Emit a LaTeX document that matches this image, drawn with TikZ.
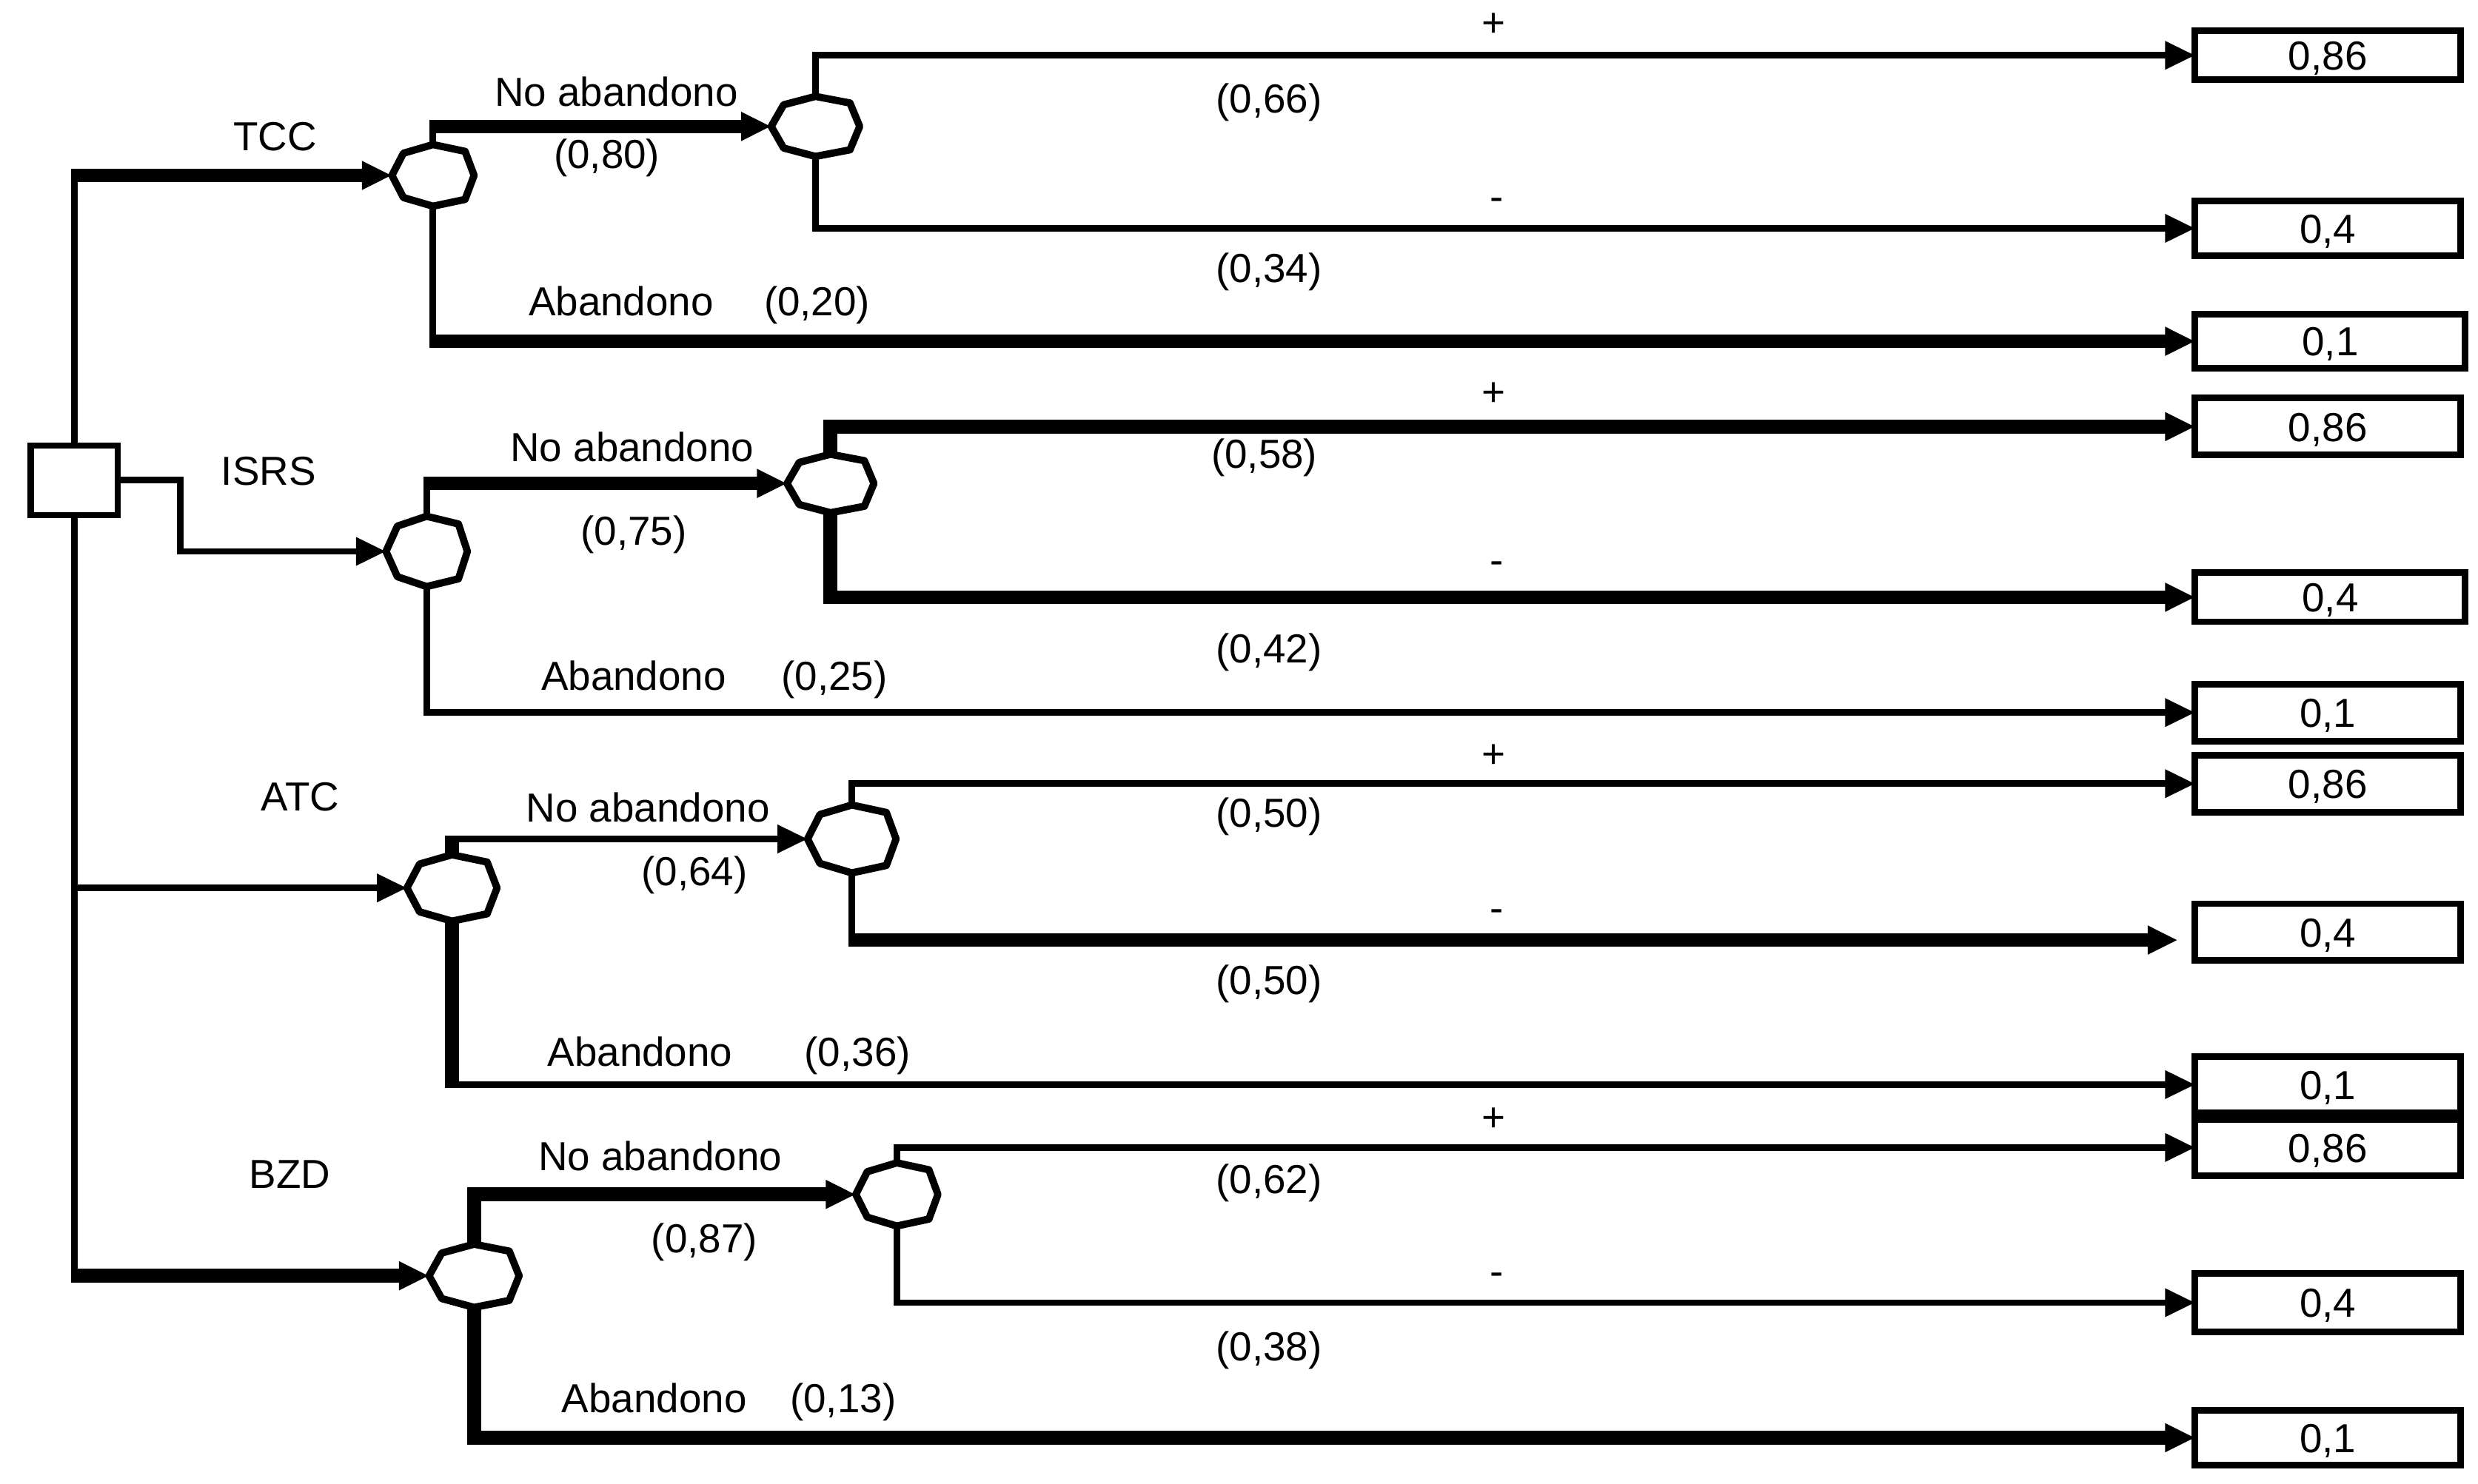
\documentclass[tikz,border=0pt]{standalone}
\usepackage{fontspec}
\setmainfont{Liberation Sans}
\usetikzlibrary{arrows.meta,calc}
\begin{document}
\begin{tikzpicture}[x=0.1mm,y=-0.1mm,
  thinl/.style={line width=0.42mm},
  thickl/.style={line width=0.87mm},
  arr/.style={-{Triangle[length=1.9mm,width=1.7mm]}},
  chance/.style={rectangle, draw=none, inner sep=0pt, outer sep=0pt},
  octa/.style={line width=0.46mm, line join=round},
  res/.style={draw, line width=0.42mm, minimum width=16.8mm, minimum height=3.5mm, inner sep=0pt, outer sep=0pt, text height=1.85mm, text depth=0pt},
  lab/.style={anchor=base, inner sep=0pt},
  every node/.append style={font=\fontsize{7.3pt}{8.8pt}\selectfont}
]
\useasboundingbox (0,0) rectangle (1568,939);

% decision node
\node[draw, line width=0.4mm, minimum width=5.5mm, minimum height=4.4mm, inner sep=0pt, outer sep=0pt] (root) at (47,304) {};

% chance nodes
\node[chance, minimum width=5.2mm, minimum height=3.9mm] (c1) at (274,111) {};
\node[chance, minimum width=5.6mm, minimum height=3.8mm] (c1a) at (516,80) {};
\node[chance, minimum width=5.15mm, minimum height=4.45mm] (c2) at (270,349) {};
\node[chance, minimum width=5.5mm, minimum height=3.7mm] (c2a) at (525.5,306) {};
\node[chance, minimum width=5.7mm, minimum height=4.2mm] (c3) at (286,562) {};
\node[chance, minimum width=5.6mm, minimum height=4.3mm] (c3a) at (539,531) {};
\node[chance, minimum width=5.7mm, minimum height=4.0mm] (c4) at (300,807.5) {};
\node[chance, minimum width=5.2mm, minimum height=4.0mm] (c4a) at (567.5,756) {};

% result boxes
\node[res, minimum height=3.1mm] (b1) at (1473,35) {0,86};
\node[res] (b2) at (1473,144.5) {0,4};
\node[res, minimum width=17.1mm, minimum height=3.4mm] (b3) at (1474.5,216) {0,1};
\node[res, minimum height=3.6mm] (b4) at (1473,270) {0,86};
\node[res, minimum width=17.1mm, minimum height=3.1mm] (b5) at (1474.5,378) {0,4};
\node[res, minimum height=3.6mm] (b6) at (1473,451) {0,1};
\node[res, minimum height=3.6mm] (b7) at (1473,496) {0,86};
\node[res, minimum height=3.6mm] (b8) at (1473,590) {0,4};
\node[res, minimum height=3.55mm] (b9) at (1473,686.5) {0,1};
\node[res, minimum height=3.55mm] (b10) at (1473,726.3) {0,86};
\node[res, minimum height=3.7mm] (b11) at (1473,824.5) {0,4};
\node[res] (b12) at (1473,910) {0,1};

% trunk
\coordinate (kT) at (root.north |- c1.west);
\coordinate (kB) at (root.south |- c4.west);
\coordinate (k2) at (114,349);
\draw[thinl] (root.north) -- (kT);
\draw[thinl] (root.south) -- (kB);
\draw[thickl,arr] ($(kT)+(-2.1,0)$) -- (c1.west);
\draw[thickl,arr] ($(kB)+(-2.1,0)$) -- (c4.west);
\draw[thinl,arr] (root.south |- c3.west) -- (c3.west);
\draw[thinl,arr] (root.east) -| (k2) -- (c2.west);

% tree TCC
\coordinate (c1u) at (c1.north |- c1a.west);
\coordinate (c1d) at (c1.south |- b3.west);
\draw[thinl] (c1.north) -- (c1u);
\draw[thickl,arr] ($(c1u)+(-2.1,0)$) -- (c1a.west);
\draw[thinl] (c1.south) -- (c1d);
\draw[thickl,arr] ($(c1d)+(-2.1,0)$) -- (b3.west);
\draw[thinl,arr] (c1a.north) |- (b1.west);
\draw[thinl,arr] (c1a.south) |- (b2.west);

% tree ISRS
\coordinate (c2u) at (c2.north |- c2a.west);
\draw[thinl] (c2.north) -- (c2u);
\draw[thickl,arr] ($(c2u)+(-2.1,0)$) -- (c2a.west);
\draw[thinl,arr] (c2.south) |- (b6.west);
\draw[thickl,arr] (c2a.north) |- (b4.west);
\draw[thickl,arr] (c2a.south) |- (b5.west);

% tree ATC
\coordinate (c3u) at (c3.north |- c3a.west);
\coordinate (c3d) at (c3.south |- b9.west);
\coordinate (e8) at (1378,595);
\coordinate (c3ad) at (c3a.south |- e8);
\draw[thickl] (c3.north) -- (c3u);
\draw[thinl,arr] ($(c3u)+(-4.35,0)$) -- (c3a.west);
\draw[thickl] (c3.south) -- ($(c3d)+(0,2.1)$);
\draw[thinl,arr] ($(c3d)+(-4.35,0)$) -- (b9.west);
\draw[thinl,arr] (c3a.north) |- (b7.west);
\draw[thinl] (c3a.south) -- (c3ad);
\draw[thickl,arr] ($(c3ad)+(-2.1,0)$) -- (e8);

% tree BZD
\draw[thickl,arr] (c4.north) |- (c4a.west);
\draw[thickl,arr] (c4.south) |- (b12.west);
\draw[thinl,arr] (c4a.north) |- (b10.west);
\draw[thinl,arr] (c4a.south) |- (b11.west);

% octagons
\foreach \n in {c1,c1a,c2,c2a,c3,c3a,c4,c4a}
  \draw[octa] (\n.west) -- ($(\n.center)!0.72!(\n.north west)$) -- (\n.north)
    -- ($(\n.center)!0.78!(\n.north east)$) -- (\n.east)
    -- ($(\n.center)!0.78!(\n.south east)$) -- (\n.south)
    -- ($(\n.center)!0.72!(\n.south west)$) -- cycle;

% labels: treatments
\node[lab] (lTCC) at (174,95.5) {TCC};
\node[lab] (lISRS) at (170,307) {ISRS};
\node[lab] (lATC) at (190,513) {ATC};
\node[lab] (lBZD) at (183.5,752) {BZD};

% tree TCC labels
\node[lab] (n1) at (390,67) {No abandono};
\node[lab] (p1) at (384,106.5) {(0,80)};
\node[lab] (a1) at (393,200) {Abandono};
\node[lab] (q1) at (517,200) {(0,20)};
\node[lab] (s1p) at (945,23) {+};
\node[lab] (r1) at (803,71.5) {(0,66)};
\node[lab] (s1m) at (947,133.5) {-};
\node[lab] (r1b) at (803,178.5) {(0,34)};

% tree ISRS labels
\node[lab] (n2) at (400,292) {No abandono};
\node[lab] (p2) at (401,345) {(0,75)};
\node[lab] (a2) at (401,437) {Abandono};
\node[lab] (q2) at (528,437) {(0,25)};
\node[lab] (s2p) at (945,257) {+};
\node[lab] (r2) at (800,296.5) {(0,58)};
\node[lab] (s2m) at (947,363.5) {-};
\node[lab] (r2b) at (803,419.5) {(0,42)};

% tree ATC labels
\node[lab] (n3) at (410,520) {No abandono};
\node[lab] (p3) at (439.5,560.5) {(0,64)};
\node[lab] (a3) at (405,674.6) {Abandono};
\node[lab] (q3) at (542.6,674.6) {(0,36)};
\node[lab] (s3p) at (945,486) {+};
\node[lab] (r3) at (803,523.5) {(0,50)};
\node[lab] (s3m) at (947,583.5) {-};
\node[lab] (r3b) at (803,629.5) {(0,50)};

% tree BZD labels
\node[lab] (n4) at (417.7,741) {No abandono};
\node[lab] (p4) at (445.7,793) {(0,87)};
\node[lab] (a4) at (414,894) {Abandono};
\node[lab] (q4) at (533.5,894) {(0,13)};
\node[lab] (s4p) at (945,716) {+};
\node[lab] (r4) at (803,755.5) {(0,62)};
\node[lab] (s4m) at (947,813.5) {-};
\node[lab] (r4b) at (803,861.5) {(0,38)};
\end{tikzpicture}
\end{document}
